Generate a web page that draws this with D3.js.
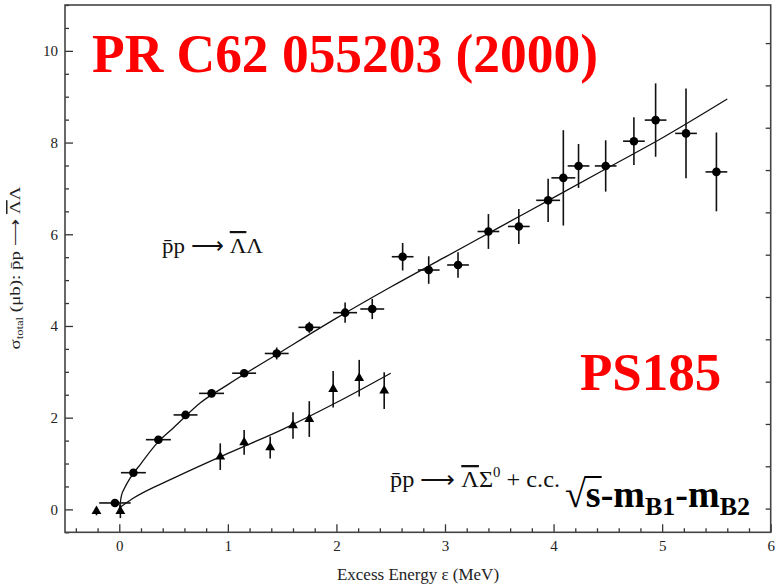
<!DOCTYPE html>
<html><head><meta charset="utf-8">
<script src="https://cdn.jsdelivr.net/npm/d3@7"></script>
<style>body{margin:0;background:#fff}svg{display:block}</style>
</head><body><svg id="c" width="778" height="586"></svg>
<script>
// p̄p → Λ̄Λ data (circles): excess energy, cross section, x-error, y-error
const laE  = [-0.04,0.13,0.36,0.61,0.85,1.15,1.45,1.75,2.08,2.33,2.61,2.85,3.12,3.40,3.68,3.95,4.09,4.23,4.48,4.74,4.94,5.22,5.50];
const laS  = [0.14,0.80,1.52,2.06,2.53,2.97,3.40,3.97,4.29,4.37,5.51,5.22,5.33,6.06,6.17,6.74,7.23,7.49,7.49,8.03,8.49,8.20,7.36];
const laDE = [0.145,0.115,0.115,0.11,0.115,0.11,0.11,0.10,0.11,0.11,0.10,0.10,0.10,0.10,0.10,0.11,0.11,0.10,0.10,0.10,0.10,0.10,0.10];
const laDS = [0.05,0.06,0.06,0.06,0.08,0.08,0.13,0.12,0.22,0.22,0.30,0.30,0.28,0.38,0.38,0.47,1.04,0.48,0.56,0.52,0.80,0.98,0.86];
// p̄p → Λ̄Σ0 + c.c. data (triangles)
const lsE  = [-0.21,0.01,0.93,1.15,1.39,1.60,1.75,1.97,2.21,2.44];
const lsS  = [-0.04,-0.04,1.15,1.46,1.35,1.83,1.97,2.62,2.86,2.59];
const lsDS = [0.09,0.15,0.29,0.27,0.24,0.29,0.39,0.40,0.40,0.40];
// fit curves
const fitLaE = [0,0.02,0.05,0.1,0.2,0.35,0.5,0.75,1.0,1.5,2.0,2.5,3.0,3.5,4.0,4.5,5.0,5.6];
const fitLaS = [0,0.3,0.47,0.68,1.0,1.45,1.78,2.33,2.72,3.45,4.17,4.85,5.5,6.15,6.8,7.45,8.1,8.95];
const fitLsE = [0,0.12,0.5,1.0,1.5,2.0,2.5];
const fitLsS = [0.03,0.23,0.68,1.22,1.74,2.33,2.97];
// ticks
const xMajor = [0,1,2,3,4,5,6];
const yMajor = [0,2,4,6,8,10];
const rightTicks = [0,1,2,3,4,5,6,7,8,9,10,11];

const W = 778, H = 586;
const m = {l:65, t:5, r:7.3, b:53.7};
const svg = d3.select("#c");
const x = d3.scaleLinear().domain([-0.5, 6]).range([m.l, W - m.r]);
const y = d3.scaleLinear().domain([-0.5, 11]).range([H - m.b, m.t]);
const yR = d3.scaleLinear().domain([-0.56, 11.9]).range([H - m.b, m.t]);
const serif = "'Liberation Serif','Times New Roman',serif";
const ARROW = "\u27F6";

const xMinor = d3.range(-0.4, 6.0001, 0.2).filter(v => Math.abs(v - Math.round(v)) > 1e-6);
const yMinor = d3.range(-0.5, 11.0001, 0.5).filter(v => yMajor.indexOf(v) < 0);

// axes
const gxMin = svg.append("g").attr("transform", `translate(0,${H - m.b})`)
  .call(d3.axisBottom(x).tickValues(xMinor).tickSize(-4).tickFormat(""));
const gx = svg.append("g").attr("transform", `translate(0,${H - m.b})`)
  .call(d3.axisBottom(x).tickValues(xMajor).tickSize(-8).tickPadding(8).tickFormat(d3.format("d")));
const gyMin = svg.append("g").attr("transform", `translate(${m.l},0)`)
  .call(d3.axisLeft(y).tickValues(yMinor).tickSize(-4).tickFormat(""));
const gy = svg.append("g").attr("transform", `translate(${m.l},0)`)
  .call(d3.axisLeft(y).tickValues(yMajor).tickSize(-8).tickPadding(7).tickFormat(d3.format("d")));
const gr = svg.append("g").attr("transform", `translate(${W - m.r},0)`)
  .call(d3.axisRight(yR).tickValues(rightTicks).tickSize(-5).tickFormat(""));
[gxMin, gx, gyMin, gy, gr].forEach(g => {
  g.select(".domain").remove();
  g.selectAll("line").attr("stroke", "#333").attr("stroke-width", 1.3);
  g.selectAll("text").attr("font-family", serif).attr("font-size", 15).attr("fill", "#222");
});

// frame
svg.append("rect").attr("x", m.l).attr("y", m.t)
  .attr("width", W - m.r - m.l).attr("height", H - m.b - m.t)
  .attr("fill", "none").attr("stroke", "#444").attr("stroke-width", 1.6);

// fit curves
const line = d3.line().x(d => x(d[0])).y(d => y(d[1])).curve(d3.curveMonotoneX);
svg.append("path").datum(fitLaE.map((e, i) => [e, fitLaS[i]]))
  .attr("d", line).attr("fill", "none").attr("stroke", "#111").attr("stroke-width", 1.3);
svg.append("path").datum(fitLsE.map((e, i) => [e, fitLsS[i]]))
  .attr("d", line).attr("fill", "none").attr("stroke", "#111").attr("stroke-width", 1.3);

// Λ̄Λ points
const la = laE.map((e, i) => ({e, s: laS[i], de: laDE[i], ds: laDS[i]}));
const gla = svg.append("g");
gla.selectAll("line.h").data(la).join("line").attr("class", "h")
  .attr("x1", d => x(d.e - d.de)).attr("x2", d => x(d.e + d.de))
  .attr("y1", d => y(d.s)).attr("y2", d => y(d.s))
  .attr("stroke", "#111").attr("stroke-width", 1.6);
gla.selectAll("line.v").data(la).join("line").attr("class", "v")
  .attr("x1", d => x(d.e)).attr("x2", d => x(d.e))
  .attr("y1", d => y(d.s - d.ds)).attr("y2", d => y(d.s + d.ds))
  .attr("stroke", "#111").attr("stroke-width", 1.6);
gla.selectAll("circle").data(la).join("circle")
  .attr("cx", d => x(d.e)).attr("cy", d => y(d.s)).attr("r", 4.3).attr("fill", "#000");

// Λ̄Σ0 points
const ls = lsE.map((e, i) => ({e, s: lsS[i], ds: lsDS[i]}));
const gls = svg.append("g");
gls.selectAll("line").data(ls).join("line")
  .attr("x1", d => x(d.e)).attr("x2", d => x(d.e))
  .attr("y1", d => y(d.s - d.ds)).attr("y2", d => y(d.s + d.ds))
  .attr("stroke", "#111").attr("stroke-width", 1.6);
gls.selectAll("path").data(ls).join("path")
  .attr("d", d3.symbol(d3.symbolTriangle, 42))
  .attr("transform", d => `translate(${x(d.e)},${y(d.s)})`).attr("fill", "#000");

// axis titles
svg.append("text").attr("x", 418).attr("y", 580).attr("text-anchor", "middle")
  .attr("font-family", serif).attr("font-size", 17).attr("fill", "#222")
  .text("Excess Energy ε (MeV)");
const yl = svg.append("text").attr("transform", "translate(20,268) rotate(-90)")
  .attr("text-anchor", "middle").attr("font-family", serif).attr("font-size", 15).attr("fill", "#222")
  .attr("textLength", 163).attr("lengthAdjust", "spacingAndGlyphs");
yl.append("tspan").text("σ");
yl.append("tspan").attr("font-size", 10).attr("dy", 3).text("total");
yl.append("tspan").attr("dy", -3).text(" (μb): p\u0304p " + ARROW + " ");
yl.append("tspan").attr("text-decoration", "overline").text("\u039B");
yl.append("tspan").text("\u039B");

// reaction labels
const t1 = svg.append("text").attr("x", 162).attr("y", 253).attr("font-family", serif).attr("font-size", 22)
  .attr("fill", "#111").attr("textLength", 101).attr("lengthAdjust", "spacingAndGlyphs");
t1.append("tspan").text("p\u0304p " + ARROW + " ");
t1.append("tspan").attr("text-decoration", "overline").text("\u039B");
t1.append("tspan").text("\u039B");
const t2 = svg.append("text").attr("x", 390).attr("y", 487).attr("font-family", serif).attr("font-size", 23)
  .attr("fill", "#111").attr("textLength", 170).attr("lengthAdjust", "spacingAndGlyphs");
t2.append("tspan").text("p\u0304p " + ARROW + " ");
t2.append("tspan").attr("text-decoration", "overline").text("\u039B");
t2.append("tspan").text("Σ");
t2.append("tspan").attr("font-size", 14).attr("dy", -10).text("0");
t2.append("tspan").attr("dy", 10).text(" + c.c.");

// red annotations
svg.append("text").attr("x", 92).attr("y", 72).attr("font-family", serif).attr("font-weight", "bold")
  .attr("font-size", 55).attr("fill", "#ff0000").attr("textLength", 506).attr("lengthAdjust", "spacingAndGlyphs")
  .text("PR C62 055203 (2000)");
svg.append("text").attr("x", 580).attr("y", 390).attr("font-family", serif).attr("font-weight", "bold")
  .attr("font-size", 53).attr("fill", "#ff0000").text("PS185");

// √s - mB1 - mB2
const t3 = svg.append("text").attr("x", 565).attr("y", 507).attr("font-family", serif).attr("font-weight", "bold")
  .attr("font-size", 38).attr("fill", "#000").attr("textLength", 185).attr("lengthAdjust", "spacingAndGlyphs");
t3.append("tspan").attr("font-weight", "normal").text("√");
t3.append("tspan").text("s");
t3.append("tspan").text("-m");
t3.append("tspan").attr("font-size", 26).attr("dy", 8).text("B1");
t3.append("tspan").attr("dy", -8).text("-m");
t3.append("tspan").attr("font-size", 26).attr("dy", 8).text("B2");
// vinculum of the radical over "s"
const n3 = t3.node();
const rad = n3.getExtentOfChar(0), sEx = n3.getExtentOfChar(1);
svg.append("line").attr("x1", rad.x + rad.width - 1.5).attr("x2", sEx.x + sEx.width + 1)
  .attr("y1", 477).attr("y2", 477).attr("stroke", "#000").attr("stroke-width", 2);
</script></body></html>
